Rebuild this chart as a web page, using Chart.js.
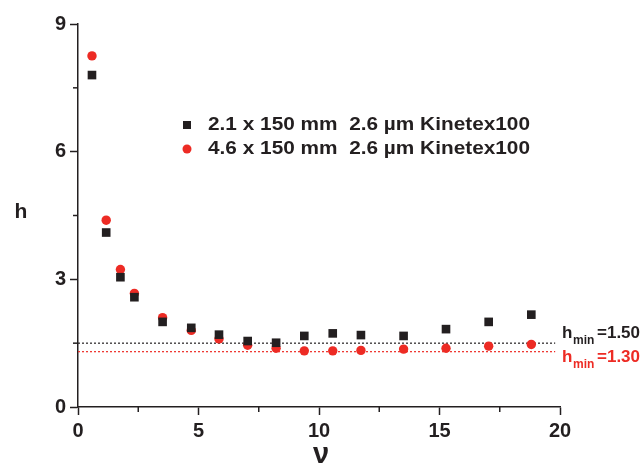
<!DOCTYPE html>
<html>
<head>
<meta charset="utf-8">
<script src="https://cdn.jsdelivr.net/npm/chart.js@4/dist/chart.umd.min.js"></script>
<style>
  html, body { margin: 0; padding: 0; background: #fff; }
  #wrap { width: 643px; height: 465px; }
</style>
</head>
<body>
<div id="wrap"><canvas id="hChart" width="643" height="465"></canvas></div>
<script>
// reduced velocity (x) and reduced plate height (y)
var nuValues = [0.58, 1.17, 1.76, 2.34, 3.51, 4.70, 5.85, 7.04, 8.22, 9.39, 10.57, 11.74, 13.51, 15.27, 17.04, 18.81];
var h21 = [7.80, 4.10, 3.05, 2.58, 2.00, 1.86, 1.70, 1.55, 1.51, 1.67, 1.73, 1.69, 1.67, 1.83, 2.00, 2.17];
var h46 = [8.25, 4.39, 3.23, 2.67, 2.10, 1.80, 1.60, 1.45, 1.38, 1.32, 1.32, 1.33, 1.36, 1.38, 1.43, 1.47];
var seriesNames = ['2.1 x 150 mm  2.6 \u00b5m Kinetex100', '4.6 x 150 mm  2.6 \u00b5m Kinetex100'];
var hminValues = [1.50, 1.30];
var hminLabels = ['=1.50', '=1.30'];
var hminRange = [0, 19.8];
var yMinorTicks = [1.5, 4.5, 7.5];
var xMinorTicks = [2.5, 7.5, 12.5, 17.5];

var black = '#231f20';
var red = '#ed2b24';
var font = '"Liberation Sans", Arial, sans-serif';

function toPoints(xs, ys) {
    return xs.map(function (x, i) { return { x: x, y: ys[i] }; });
}

// legend text is a bit wider in the original, stretch it to fit
function wideText(ctx, text, x, y, targetW) {
    var w = ctx.measureText(text).width;
    ctx.save();
    ctx.translate(x, y);
    ctx.scale(targetW / w, 1);
    ctx.fillText(text, 0, 0);
    ctx.restore();
}

// minor ticks, legend, axis titles and h_min labels
var extras = {
    id: 'extras',
    afterDraw: function (chart) {
        var ctx = chart.ctx;
        var xs = chart.scales.x, ys = chart.scales.y;
        ctx.save();
        ctx.strokeStyle = black;
        ctx.lineWidth = 1.5;
        yMinorTicks.forEach(function (v) {
            var py = ys.getPixelForValue(v);
            ctx.beginPath(); ctx.moveTo(xs.left - 5, py); ctx.lineTo(xs.left, py); ctx.stroke();
        });
        xMinorTicks.forEach(function (v) {
            var px = xs.getPixelForValue(v);
            ctx.beginPath(); ctx.moveTo(px, ys.bottom); ctx.lineTo(px, ys.bottom + 5); ctx.stroke();
        });

        // legend
        ctx.font = 'bold 19px ' + font;
        ctx.textBaseline = 'middle';
        ctx.textAlign = 'left';
        ctx.fillStyle = black;
        ctx.fillRect(183, 121, 8, 8);
        wideText(ctx, seriesNames[0], 208, 125, 322);
        ctx.fillStyle = red;
        ctx.beginPath(); ctx.arc(187, 149, 4.5, 0, Math.PI * 2); ctx.fill();
        ctx.fillStyle = black;
        wideText(ctx, seriesNames[1], 208, 149, 322);

        // axis titles
        ctx.textAlign = 'center';
        ctx.font = 'bold 21px ' + font;
        ctx.fillText('h', 21, 212);
        ctx.font = 'bold 29px ' + font;
        ctx.textBaseline = 'alphabetic';
        ctx.fillText('\u03bd', 321, 463);

        // h_min labels
        ctx.textAlign = 'left';
        [black, red].forEach(function (c, i) {
            var base = [338, 362][i];
            ctx.fillStyle = c;
            ctx.font = 'bold 17px ' + font;
            ctx.fillText('h', 562, base);
            ctx.font = 'bold 12px ' + font;
            ctx.fillText('min', 573, base + 6);
            ctx.font = 'bold 17px ' + font;
            ctx.fillText(hminLabels[i], 597, base);
        });
        ctx.restore();
    }
};

var ctx = document.getElementById('hChart').getContext('2d');
var hChart = new Chart(ctx, {
    type: 'scatter',
    data: {
        datasets: [{
            label: seriesNames[0],
            data: toPoints(nuValues, h21),
            pointStyle: 'rect',
            pointRadius: 6.1,
            backgroundColor: black,
            borderWidth: 0,
            clip: false
        }, {
            label: seriesNames[1],
            data: toPoints(nuValues, h46),
            pointStyle: 'circle',
            pointRadius: 4.7,
            backgroundColor: red,
            borderWidth: 0,
            clip: false
        }, {
            label: 'hmin 2.1',
            data: toPoints(hminRange, [hminValues[0], hminValues[0]]),
            showLine: true,
            pointRadius: 0,
            borderColor: black,
            borderWidth: 1.2,
            borderDash: [2, 2]
        }, {
            label: 'hmin 4.6',
            data: toPoints(hminRange, [hminValues[1], hminValues[1]]),
            showLine: true,
            pointRadius: 0,
            borderColor: red,
            borderWidth: 1.2,
            borderDash: [2, 2]
        }]
    },
    options: {
        responsive: false,
        animation: false,
        layout: { padding: { top: 24, right: 83, left: 0, bottom: 0 } },
        plugins: { legend: { display: false }, tooltip: { enabled: false } },
        scales: {
            x: {
                type: 'linear',
                min: 0, max: 20,
                afterFit: function (s) { s.height = 58; },
                border: { display: true, color: black, width: 1.5 },
                grid: { drawOnChartArea: false, drawTicks: true, tickLength: 8, color: black, tickWidth: 1.5 },
                ticks: { stepSize: 5, color: black, padding: 4, font: { family: font, size: 20, weight: 'bold' } }
            },
            y: {
                type: 'linear',
                min: 0, max: 9,
                afterFit: function (s) { s.width = 78; },
                border: { display: true, color: black, width: 1.5 },
                grid: { drawOnChartArea: false, drawTicks: true, tickLength: 8, color: black, tickWidth: 1.5 },
                ticks: { stepSize: 3, color: black, padding: 4, font: { family: font, size: 20, weight: 'bold' } }
            }
        }
    },
    plugins: [extras]
});
</script>
</body>
</html>
